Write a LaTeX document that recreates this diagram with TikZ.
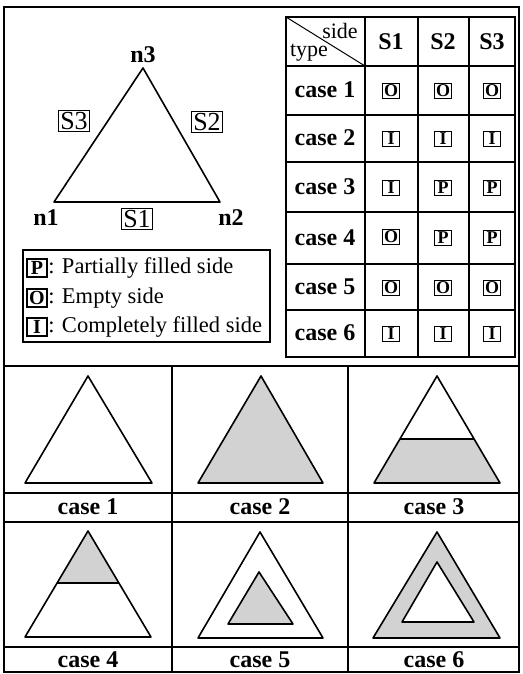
\documentclass[tikz,border=0pt]{standalone}
\usepackage{fontspec}
\setmainfont{Liberation Serif}
\usetikzlibrary{positioning}
\definecolor{dotgray}{HTML}{D2D2D2}

\begin{document}
\begin{tikzpicture}[
    x=1pt, y=-1pt,
    frame/.style={draw, line width=1.6pt},
    tri/.style={draw, line width=1.6pt, line join=round},
    filled/.style={fill=dotgray},
    sidebox/.style={draw, line width=0.9pt, inner sep=1.5pt, font=\fontsize{26}{28}\selectfont},
    vlabel/.style={font=\fontsize{24}{26}\selectfont\bfseries},
    keybox/.style={draw, line width=1.1pt, inner sep=0.8pt, minimum width=17pt, minimum height=15pt, font=\fontsize{18}{19}\selectfont\bfseries},
    bigkey/.style={keybox, minimum width=20pt, minimum height=18pt, font=\fontsize{20}{21}\selectfont\bfseries},
    cell/.style={font=\fontsize{24}{26}\selectfont\bfseries},
    head/.style={font=\fontsize{24}{26}\selectfont\bfseries},
    keytext/.style={font=\fontsize{22.5}{24}\selectfont, anchor=west, inner sep=0.5pt},
    caselabel/.style={font=\fontsize{24}{26}\selectfont\bfseries}
]
\useasboundingbox (0,0) rectangle (522,674);

% Outer frame and grid
\draw[frame] (4,7) rectangle (519,672);
\draw[frame] (4,366) -- (519,366);
\draw[frame] (4,493) -- (519,493);
\draw[frame] (4,522) -- (519,522);
\draw[frame] (4,647) -- (519,647);
\draw[frame] (172,366) -- (172,672);
\draw[frame] (348,366) -- (348,672);

% Reference triangle
\coordinate (n1) at (54,202);
\coordinate (n2) at (220,202);
\coordinate (n3) at (143,68);
\draw[tri] (n1) -- (n2) -- (n3) -- cycle;
\node[vlabel] (ln3) at (143,55) {n3};
\node[vlabel] (ln1) at (46,218) {n1};
\node[vlabel] (ln2) at (231,218) {n2};
\node[sidebox] (s3) at (74,121) {S3};
\node[sidebox] (s2) at (207,122) {S2};
\node[sidebox] (s1) at (137,219) {S1};

% Legend
\draw[line width=1.2pt] (23,250) rectangle (270,342);
\node[bigkey] (kp) at (37,268) {P};
\node[keytext, right=0pt of kp] (tp) {: Partially filled side};
\node[bigkey] (ko) at (37,298) {O};
\node[keytext, right=0pt of ko] (to) {: Empty side};
\node[bigkey] (ki) at (37,327) {I};
\node[keytext, right=0pt of ki] (ti) {: Completely filled side};

% Table
\draw[frame] (286,17) rectangle (515,357);
\draw[frame] (365,17) -- (365,357);
\draw[frame] (418,17) -- (418,357);
\draw[frame] (469,17) -- (469,357);
\draw[frame] (286,66) -- (515,66);
\draw[frame] (286,115) -- (515,115);
\draw[frame] (286,162) -- (515,162);
\draw[frame] (286,212) -- (515,212);
\draw[frame] (286,264) -- (515,264);
\draw[frame] (286,310) -- (515,310);
\draw[line width=1pt] (286,17) -- (365,66);
\node[font=\fontsize{22}{24}\selectfont] (side) at (340,31) {side};
\node[font=\fontsize{22}{24}\selectfont] (type) at (309,53) {type};
\node[head] (h1) at (391,42) {S1};
\node[head] (h2) at (443,42) {S2};
\node[head] (h3) at (492,42) {S3};

\node[cell] (r1) at (325,90) {case 1};
\node[keybox] (r1a) at (391,91) {O};
\node[keybox] (r1b) at (443,91) {O};
\node[keybox] (r1c) at (492,91) {O};

\node[cell] (r2) at (325,138) {case 2};
\node[keybox] (r2a) at (391,139) {I};
\node[keybox] (r2b) at (443,139) {I};
\node[keybox] (r2c) at (492,139) {I};

\node[cell] (r3) at (325,187) {case 3};
\node[keybox] (r3a) at (391,188) {I};
\node[keybox] (r3b) at (443,188) {P};
\node[keybox] (r3c) at (492,188) {P};

\node[cell] (r4) at (325,238) {case 4};
\node[keybox] (r4a) at (391,237) {O};
\node[keybox] (r4b) at (443,238) {P};
\node[keybox] (r4c) at (492,238) {P};

\node[cell] (r5) at (325,287) {case 5};
\node[keybox] (r5a) at (391,288) {O};
\node[keybox] (r5b) at (443,288) {O};
\node[keybox] (r5c) at (492,288) {O};

\node[cell] (r6) at (325,333) {case 6};
\node[keybox] (r6a) at (391,334) {I};
\node[keybox] (r6b) at (443,334) {I};
\node[keybox] (r6c) at (492,334) {I};

% case 1
\draw[tri] (88,376) -- (152,483) -- (25,483) -- cycle;
% case 2
\draw[tri, filled] (261,376) -- (323,483) -- (198,483) -- cycle;
% case 3
\fill[dotgray] (400,439) -- (474,439) -- (500,483) -- (374,483) -- cycle;
\draw[tri] (437,376) -- (500,483) -- (374,483) -- cycle;
\draw[tri] (400,439) -- (474,439);
% case 4
\fill[dotgray] (88,531) -- (119,583) -- (57,583) -- cycle;
\draw[tri] (88,531) -- (151,637) -- (25,637) -- cycle;
\draw[tri] (57,583) -- (119,583);
% case 5
\draw[tri] (260,532) -- (323,638) -- (198,638) -- cycle;
\draw[tri, filled] (259,572) -- (293,624) -- (228,624) -- cycle;
% case 6
\draw[tri, filled, even odd rule] (437,532) -- (500,638) -- (373,638) -- cycle
    (437,562) -- (474,622) -- (402,622) -- cycle;

\node[caselabel] (c1) at (88,507) {case 1};
\node[caselabel] (c2) at (260,507) {case 2};
\node[caselabel] (c3) at (434,507) {case 3};
\node[caselabel] (c4) at (88,660) {case 4};
\node[caselabel] (c5) at (260,660) {case 5};
\node[caselabel] (c6) at (434,660) {case 6};

\end{tikzpicture}
\end{document}
